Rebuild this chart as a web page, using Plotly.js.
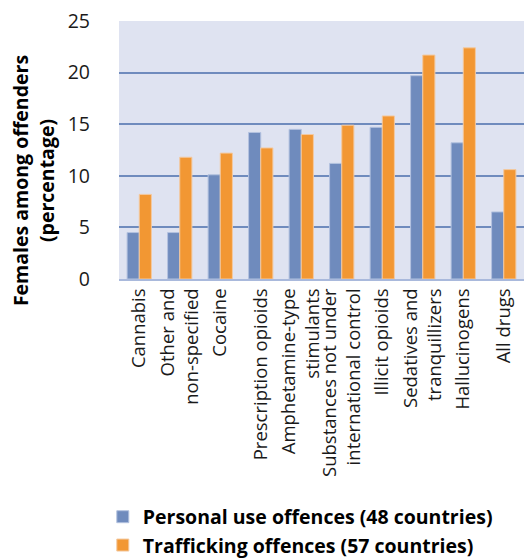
<!DOCTYPE html>
<html>
<head>
<meta charset="utf-8">
<script src="https://cdn.plot.ly/plotly-3.0.1.min.js"></script>
<style>html,body{margin:0;padding:0;background:#fff;}#chart{width:524px;height:560px;}</style>
</head>
<body>
<div id="chart"></div>
<script>
var categories = [
  "Cannabis",
  "Other and<br>non-specified",
  "Cocaine",
  "Prescription opioids",
  "Amphetamine-type<br>stimulants",
  "Substances not under<br>international control",
  "Illicit opioids",
  "Sedatives and<br>tranquillizers",
  "Hallucinogens",
  "All drugs"
];
var personalUse = [4.5, 4.5, 10.1, 14.2, 14.5, 11.2, 14.7, 19.7, 13.2, 6.5];
var trafficking = [8.2, 11.8, 12.2, 12.7, 14.0, 14.9, 15.8, 21.7, 22.4, 10.6];
var seriesNames = ["Personal use offences (48 countries)", "Trafficking offences (57 countries)"];
var yTicks = [0, 5, 10, 15, 20, 25];

var FONT = "'Open Sans', 'Noto Sans', sans-serif";
var traces = [
  {type: "bar", name: seriesNames[0], x: categories, y: personalUse,
   marker: {color: "#6f8bbd", line: {color: "#b3c2df", width: 1}}},
  {type: "bar", name: seriesNames[1], x: categories, y: trafficking,
   marker: {color: "#f29733", line: {color: "#f3c9a0", width: 1}}}
];
var layout = {
  width: 524, height: 560,
  margin: {l: 119, r: 0, t: 21, b: 281, autoexpand: false},
  paper_bgcolor: "#ffffff",
  plot_bgcolor: "#dfe3f1",
  barmode: "group", bargap: 0.4, bargroupgap: 0,
  font: {family: FONT, size: 19, color: "#1a1a1a"},
  showlegend: true,
  legend: {orientation: "v", x: -0.04, xanchor: "left", y: -0.847, yanchor: "top",
    font: {family: FONT, size: 19.5, color: "#000", weight: "bold"},
    tracegroupgap: 0, itemwidth: 30},
  xaxis: {tickangle: -90, showline: true, linecolor: "#a9b9dc", linewidth: 2,
    ticks: "", tickfont: {family: FONT, size: 18.5, color: "#1a1a1a"}, automargin: false},
  yaxis: {range: [0, 25], tickvals: yTicks, ticktext: yTicks.map(String),
    showgrid: true, gridcolor: "#6f8bbd", gridwidth: 2, zeroline: false,
    ticks: "", ticklabelstandoff: 28, tickfont: {family: FONT, size: 19.5, color: "#1a1a1a"},
    automargin: false, fixedrange: true},
  annotations: [{
    text: "<b>Females among offenders<br>(percentage)</b>",
    xref: "paper", yref: "paper", x: -0.212, y: 0.38, xanchor: "center", yanchor: "middle",
    textangle: -90, showarrow: false,
    font: {family: FONT, size: 19.5, color: "#000"}
  }]
};
Plotly.newPlot("chart", traces, layout, {displayModeBar: false, staticPlot: true});
</script>
</body>
</html>
